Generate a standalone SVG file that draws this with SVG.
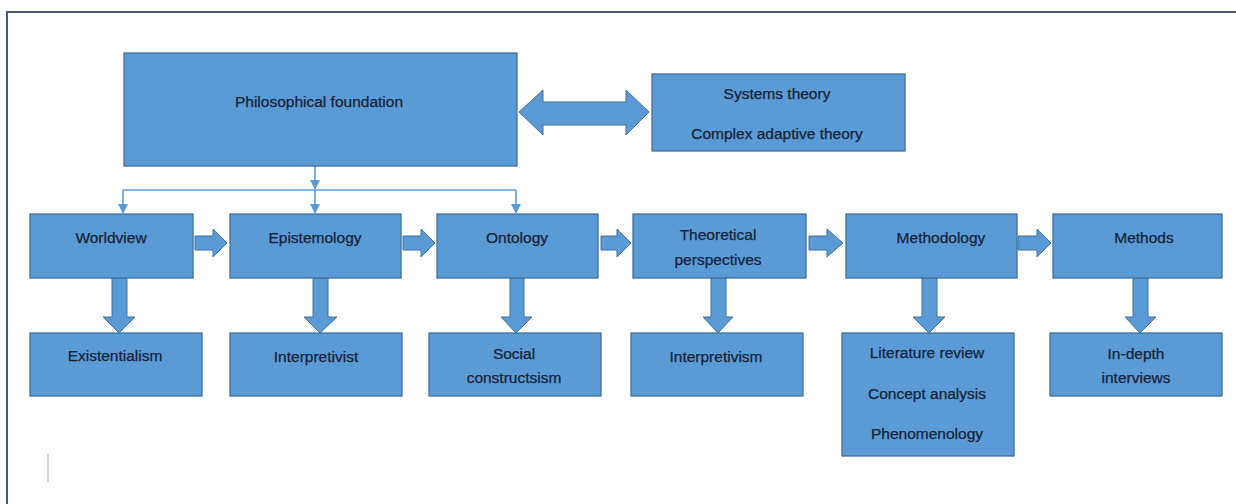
<svg xmlns="http://www.w3.org/2000/svg" width="1236" height="504" viewBox="0 0 1236 504">
  <style>
    .box { fill: #5b9bd5; stroke: #41719c; stroke-width: 1.3; }
    .blk { fill: #5b9bd5; stroke: #41719c; stroke-width: 1; }
    .lbl { font-family: "Liberation Sans", Arial, sans-serif; font-size: 15.5px; fill: #14223a; stroke: #14223a; stroke-width: 0.25; text-anchor: middle; dominant-baseline: central; }
    .wire { fill: none; stroke: #5b9bd5; stroke-width: 1.6; }
    .frame { stroke: #4a5a72; stroke-width: 2; fill: none; }
  </style>
  <defs>
    <marker id="tip" viewBox="0 0 10 10" refX="9" refY="5" markerWidth="10" markerHeight="10" markerUnits="userSpaceOnUse" orient="auto">
      <path d="M0,0 L10,5 L0,10 Z" fill="#5b9bd5"/>
    </marker>
  </defs>

  <rect width="1236" height="504" fill="#ffffff"/>
  <!-- page frame -->
  <path class="frame" d="M1236,12 H7 V504"/>
  <line x1="48" y1="454" x2="48" y2="482" stroke="#c8c8c8" stroke-width="1.5"/>

  <!-- connectors -->
  <g id="connectors">
    <path class="wire" d="M315,166 V189" marker-end="url(#tip)"/>
    <path class="wire" d="M123,190 H516"/>
    <path class="wire" d="M123,190 V213" marker-end="url(#tip)"/>
    <path class="wire" d="M315,190 V213" marker-end="url(#tip)"/>
    <path class="wire" d="M516,190 V213" marker-end="url(#tip)"/>

    <!-- two-way link between foundation and theory box -->
    <path class="blk" d="M519,112 L543,90 L543,102 L626,102 L626,90 L649,112 L626,135 L626,125 L543,125 L543,135 Z"/>

    <!-- horizontal flow arrows -->
    <path class="blk" d="M195,236 H213 V229 L227,243 L213,257 V250 H195 Z"/>
    <path class="blk" d="M403,236 H421 V229 L435,243 L421,257 V250 H403 Z"/>
    <path class="blk" d="M601,236 H617 V229 L631,243 L617,257 V250 H601 Z"/>
    <path class="blk" d="M809,236 H827 V229 L843,243 L827,257 V250 H809 Z"/>
    <path class="blk" d="M1018,236 H1037 V229 L1051,243 L1037,257 V250 H1018 Z"/>

    <!-- vertical flow arrows -->
    <path class="blk" d="M112,278 V317 H103 L119,333 L135,317 H127 V278 Z"/>
    <path class="blk" d="M313,278 V317 H304 L320,333 L337,317 H328 V278 Z"/>
    <path class="blk" d="M510,278 V317 H501 L516,333 L532,317 H524 V278 Z"/>
    <path class="blk" d="M711,278 V317 H703 L718,333 L733,317 H726 V278 Z"/>
    <path class="blk" d="M922,278 V317 H913 L929,333 L945,317 H937 V278 Z"/>
    <path class="blk" d="M1133,278 V317 H1125 L1140,333 L1156,317 H1148 V278 Z"/>
  </g>

  <g id="philosophical-foundation">
    <rect class="box" x="124" y="53" width="393" height="113"/>
    <text class="lbl" x="319" y="101">Philosophical foundation</text>
  </g>
  <g id="theories">
    <rect class="box" x="652" y="74" width="253" height="77"/>
    <text class="lbl" x="777" y="93">Systems theory</text>
    <text class="lbl" x="777" y="133">Complex adaptive theory</text>
  </g>

  <g id="worldview">
    <rect class="box" x="30" y="214" width="163" height="64"/>
    <text class="lbl" x="111" y="237">Worldview</text>
  </g>
  <g id="epistemology">
    <rect class="box" x="230" y="214" width="171" height="64"/>
    <text class="lbl" x="315" y="237">Epistemology</text>
  </g>
  <g id="ontology">
    <rect class="box" x="437" y="214" width="161" height="64"/>
    <text class="lbl" x="517" y="237">Ontology</text>
  </g>
  <g id="theoretical-perspectives">
    <rect class="box" x="633" y="214" width="173" height="64"/>
    <text class="lbl" x="718" y="234">Theoretical</text>
    <text class="lbl" x="718" y="259">perspectives</text>
  </g>
  <g id="methodology">
    <rect class="box" x="846" y="214" width="171" height="64"/>
    <text class="lbl" x="941" y="237">Methodology</text>
  </g>
  <g id="methods">
    <rect class="box" x="1053" y="214" width="169" height="64"/>
    <text class="lbl" x="1144" y="237">Methods</text>
  </g>

  <g id="existentialism">
    <rect class="box" x="30" y="333" width="172" height="63"/>
    <text class="lbl" x="115" y="355">Existentialism</text>
  </g>
  <g id="interpretivist">
    <rect class="box" x="230" y="333" width="172" height="63"/>
    <text class="lbl" x="316" y="356">Interpretivist</text>
  </g>
  <g id="social-constructsism">
    <rect class="box" x="429" y="333" width="172" height="63"/>
    <text class="lbl" x="514" y="353">Social</text>
    <text class="lbl" x="514" y="377">constructsism</text>
  </g>
  <g id="interpretivism">
    <rect class="box" x="631" y="333" width="172" height="63"/>
    <text class="lbl" x="716" y="356">Interpretivism</text>
  </g>
  <g id="methodology-approaches">
    <rect class="box" x="842" y="333" width="172" height="123"/>
    <text class="lbl" x="927" y="352">Literature review</text>
    <text class="lbl" x="927" y="393">Concept analysis</text>
    <text class="lbl" x="927" y="433">Phenomenology</text>
  </g>
  <g id="in-depth-interviews">
    <rect class="box" x="1050" y="333" width="172" height="63"/>
    <text class="lbl" x="1136" y="353">In-depth</text>
    <text class="lbl" x="1136" y="377">interviews</text>
  </g>
</svg>
